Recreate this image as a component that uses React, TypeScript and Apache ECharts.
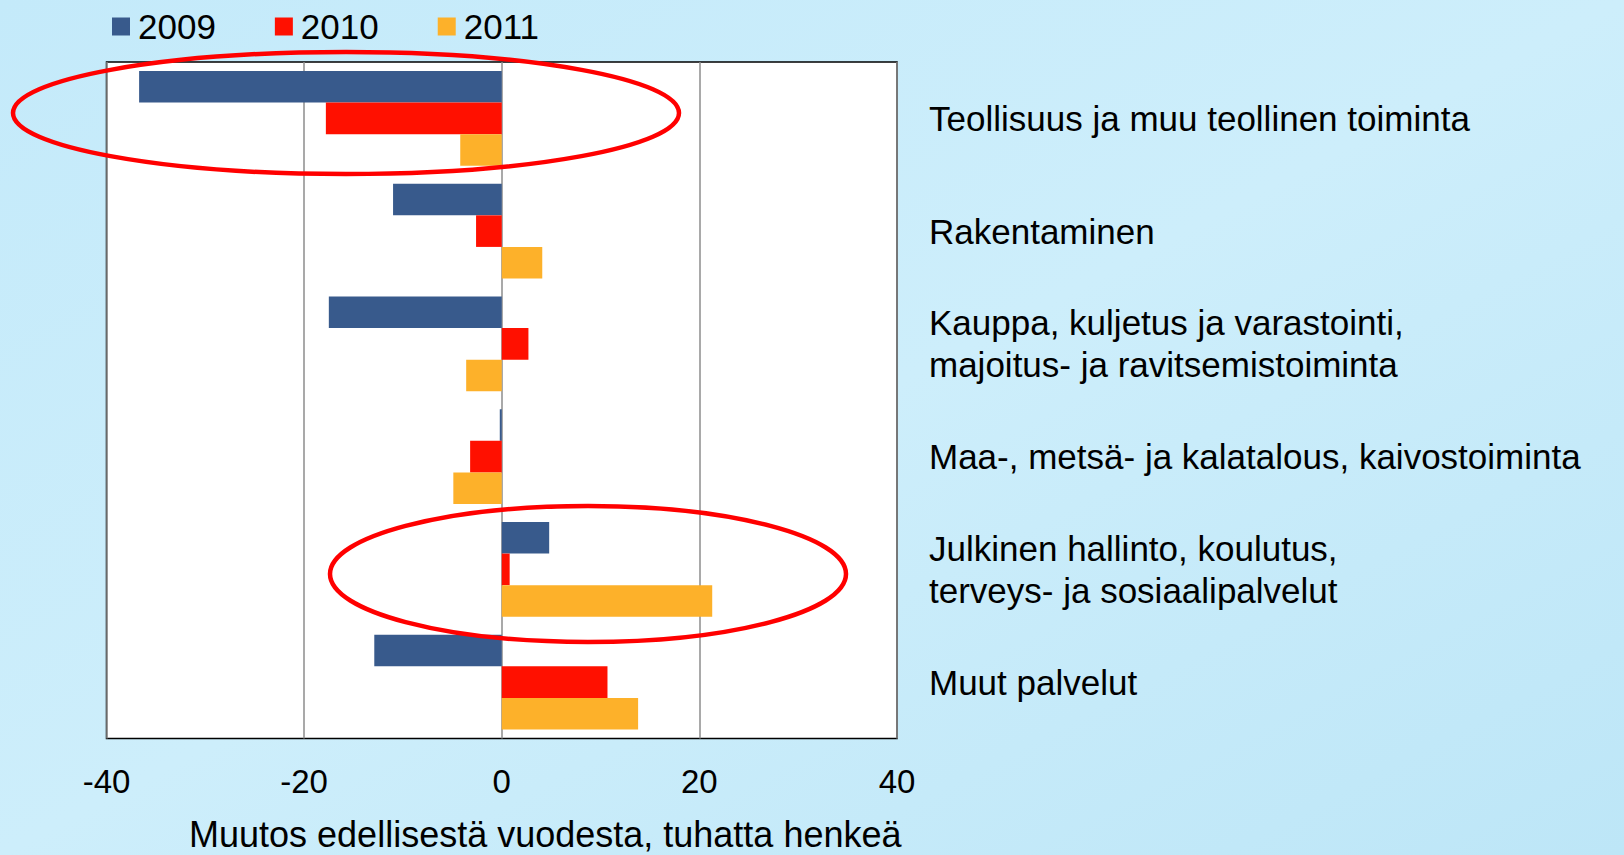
import React, { useEffect, useRef } from "react";
import * as echarts from "echarts";

const categories = [
  "Teollisuus ja muu teollinen toiminta",
  "Rakentaminen",
  "Kauppa, kuljetus ja varastointi,\nmajoitus- ja ravitsemistoiminta",
  "Maa-, metsä- ja kalatalous, kaivostoiminta",
  "Julkinen hallinto, koulutus,\nterveys- ja sosiaalipalvelut",
  "Muut palvelut",
];
const seriesNames = ["2009", "2010", "2011"];
const values2009 = [-36.7, -11.0, -17.5, -0.2, 4.8, -12.9];
const values2010 = [-17.8, -2.6, 2.7, -3.2, 0.8, 10.7];
const values2011 = [-4.2, 4.1, -3.6, -4.9, 21.3, 13.8];
const xTicks = { min: -40, max: 40, interval: 20 };
const axisTitle = "Muutos edellisestä vuodesta, tuhatta henkeä";
const colors = ["#385a8c", "#ff1000", "#fdb12a"];

export default function App() {
  const ref = useRef<HTMLDivElement>(null);
  useEffect(() => {
    if (!ref.current) return;
    const chart = echarts.init(ref.current, null, { renderer: "svg" });
    const font = "'Liberation Sans', Arial, sans-serif";
    const data = [values2009, values2010, values2011];
    chart.setOption({
      animation: false,
      backgroundColor: {
        type: "linear",
        x: 0,
        y: 0,
        x2: 1,
        y2: 1,
        colorStops: [
          { offset: 0, color: "#c4eafa" },
          { offset: 0.5, color: "#cdeefb" },
          { offset: 1, color: "#bde6f7" },
        ],
      },
      textStyle: { fontFamily: font },
      legend: {
        data: seriesNames,
        left: 107,
        top: 4,
        itemWidth: 18,
        itemHeight: 18,
        itemGap: 59,
        icon: "rect",
        textStyle: { fontSize: 35, color: "#000", fontFamily: font, padding: [0, 0, 0, 3] },
      },
      grid: {
        left: 106.5,
        top: 62,
        right: 727,
        bottom: 116.5,
        show: true,
        backgroundColor: "#ffffff",
        borderColor: "#000000",
        borderWidth: 1.5,
        containLabel: false,
        outerBoundsMode: "none",
      },
      xAxis: {
        type: "value",
        min: xTicks.min,
        max: xTicks.max,
        interval: xTicks.interval,
        axisLine: { show: false },
        axisTick: { show: false },
        splitLine: { show: true, lineStyle: { color: "#8c8c8c", width: 1.5 } },
        axisLabel: { fontSize: 33, color: "#000", margin: 26, fontFamily: font },
        name: axisTitle,
        nameLocation: "middle",
        nameGap: 78,
        nameTextStyle: { fontSize: 36, color: "#000", fontFamily: font, padding: [0, 0, 0, 87] },
      },
      yAxis: {
        type: "category",
        data: categories,
        inverse: true,
        position: "right",
        axisLine: { show: false },
        axisTick: { show: false },
        splitLine: { show: false },
        axisLabel: {
          align: "left",
          margin: 32,
          fontSize: 35,
          lineHeight: 42,
          color: "#000",
          fontFamily: font,
        },
      },
      series: seriesNames.map((name, i) => ({
        name,
        type: "bar",
        data: data[i],
        barGap: "0%",
        barCategoryGap: "16%",
        itemStyle: { color: colors[i] },
      })),
      graphic: [
        {
          type: "ellipse",
          shape: { cx: 346, cy: 113, rx: 333, ry: 61 },
          style: { fill: "none", stroke: "#ff0000", lineWidth: 4.5 },
          z: 100,
        },
        {
          type: "ellipse",
          shape: { cx: 588, cy: 574, rx: 258, ry: 68 },
          style: { fill: "none", stroke: "#ff0000", lineWidth: 4.5 },
          z: 100,
        },
      ],
    });
    return () => chart.dispose();
  }, []);
  return (
    <div
      ref={ref}
      style={{ position: "fixed", left: 0, top: 0, width: 1624, height: 855 }}
    />
  );
}
